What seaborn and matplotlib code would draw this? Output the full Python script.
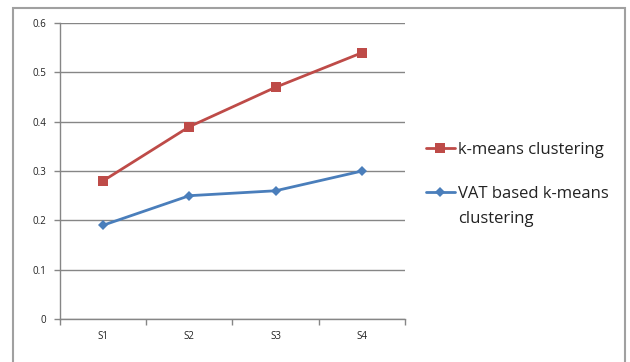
import pandas as pd
import numpy as np
import seaborn as sns
import matplotlib.pyplot as plt
from matplotlib.patches import Rectangle

categories = ["S1", "S2", "S3", "S4"]
kmeans = [0.28, 0.39, 0.47, 0.54]
vat_kmeans = [0.19, 0.25, 0.26, 0.30]
series_names = ["k-means clustering", "VAT based k-means"]
label_wrap = "clustering"   # second line of the VAT legend entry

df = pd.DataFrame({
    "sample": categories * 2,
    "value": kmeans + vat_kmeans,
    "method": [series_names[0]] * 4 + [series_names[1]] * 4,
})
df["pos"] = df["sample"].map({c: i for i, c in enumerate(categories)})

sns.set_style("white")
plt.rcParams["font.family"] = ["Open Sans", "DejaVu Sans"]

fig = plt.figure(figsize=(6.3, 3.62), dpi=100)
ax = fig.add_axes([0.095, 0.119, 0.548, 0.817])

# outer chart border
fig.patches.append(Rectangle((0.021, -0.01), 0.971, 0.988, transform=fig.transFigure,
                             fill=False, edgecolor="#a0a0a0", linewidth=1.5))

palette = {series_names[0]: "#BE4B48", series_names[1]: "#4A7EBB"}
sns.lineplot(data=df, x="pos", y="value", hue="method", style="method",
             palette=palette, markers={series_names[0]: "s", series_names[1]: "D"},
             dashes=False, linewidth=2, markersize=7, markeredgewidth=0, ax=ax)

# make diamond slightly smaller
for line in ax.get_lines():
    if line.get_marker() == "D":
        line.set_markersize(5.5)

ax.set_xlim(-0.5, 3.5)
ax.set_ylim(0, 0.6)
ax.set_yticks(np.arange(0, 0.61, 0.1))
ax.set_yticklabels(["0", "0.1", "0.2", "0.3", "0.4", "0.5", "0.6"])
ax.set_xticks(range(4))
ax.set_xticklabels(categories)
ax.set_xticks([-0.5, 0.5, 1.5, 2.5, 3.5], minor=True)
ax.tick_params(axis="x", which="major", length=0, labelsize=7, pad=9, colors="#222222")
ax.tick_params(axis="x", which="minor", length=4, color="#868686", width=1, direction="out", bottom=True)
ax.tick_params(axis="y", length=4, color="#868686", width=1, labelsize=7, pad=6,
               direction="out", left=True, colors="#222222")
ax.tick_params(axis="y", color="#868686")
ax.yaxis.grid(True, color="#868686", linewidth=1)
ax.set_axisbelow(True)
for s in ["top", "right"]:
    ax.spines[s].set_visible(False)
for s in ["left", "bottom"]:
    ax.spines[s].set_color("#868686")
    ax.spines[s].set_linewidth(1)
ax.set_xlabel("")
ax.set_ylabel("")

leg = ax.legend(loc="upper left", bbox_to_anchor=(1.035, 0.628), frameon=False,
                fontsize=12, handlelength=1.75, handletextpad=0.2, labelspacing=1.72,
                borderpad=0, title=None)
for t in leg.get_texts():
    t.set_color("#222222")

# wrapped second line of the VAT entry, placed under its label
fig.canvas.draw()
bb = leg.get_texts()[1].get_window_extent().transformed(fig.transFigure.inverted())
fig.text(bb.x0, bb.y0 - 0.068, label_wrap, fontsize=12, color="#222222",
         ha="left", va="bottom")

fig.savefig("out.png", dpi=100)
